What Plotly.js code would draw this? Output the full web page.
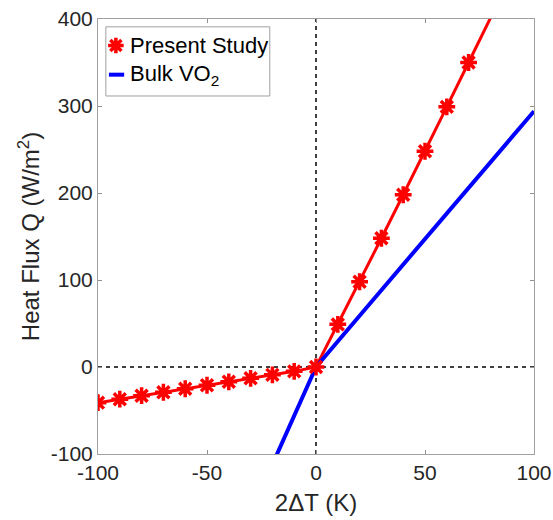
<!DOCTYPE html>
<html>
<head>
<meta charset="utf-8">
<script src="https://cdn.plot.ly/plotly-3.0.1.min.js"></script>
<style>html,body{margin:0;padding:0;background:#fff;}#chart{width:553px;height:520px;}</style>
</head>
<body>
<div id="chart"></div>
<script>
// Present Study (markers)
var studyX = [-100, -90, -80, -70, -60, -50, -40, -30, -20, -10, 0, 10, 20, 30, 40, 50, 60, 70];
var studyY = [-41, -37, -33, -29, -25, -21, -17, -13, -9, -5, 0, 49, 98, 148, 198, 248, 299, 350];
// Present Study line continues beyond the plot top
var studyLineX = [-100, -90, -80, -70, -60, -50, -40, -30, -20, -10, 0, 10, 20, 30, 40, 50, 60, 70, 80, 90, 100];
var studyLineY = [-41, -37, -33, -29, -25, -21, -17, -13, -9, -5, 0, 49, 98, 148, 198, 248, 299, 350, 401, 452, 503];
// Bulk VO2
var bulkX = [-20, -10, 0, 20, 40, 60, 80, 100];
var bulkY = [-112, -56, 0, 59, 118, 176, 235, 294];

var xTicks = [-100, -50, 0, 50, 100];
var yTicks = [-100, 0, 100, 200, 300, 400];
var legendNames = ['Present Study', 'Bulk VO<sub>2</sub>'];

var RED = '#ff0000', BLUE = '#0000ff';
var markerStyle = {symbol: 'asterisk-open', size: 14, color: RED, line: {color: RED, width: 3.5}};

var traces = [
  {x: studyLineX, y: studyLineY, mode: 'lines', line: {color: RED, width: 3}, showlegend: false, hoverinfo: 'skip'},
  {x: bulkX, y: bulkY, mode: 'lines', name: legendNames[1], line: {color: BLUE, width: 4}, showlegend: false},
  {x: studyX, y: studyY, mode: 'markers', name: legendNames[0], showlegend: false, marker: markerStyle},
  // legend glyph for Present Study, on an overlay axis in plot-fraction units
  {x: [0.041], y: [0.939], xaxis: 'x2', yaxis: 'y2', mode: 'markers', showlegend: false, hoverinfo: 'skip',
   marker: {symbol: 'asterisk-open', size: 13, color: RED, line: {color: RED, width: 3.5}}}
];

var layout = {
  width: 553, height: 520,
  margin: {l: 98, r: 19, t: 19, b: 66},
  paper_bgcolor: '#ffffff', plot_bgcolor: '#ffffff',
  font: {family: 'Liberation Sans, Arial, sans-serif', color: '#262626', size: 21},
  showlegend: false,
  xaxis: {range: [-100, 100], tickvals: xTicks, ticktext: xTicks.map(String), ticks: 'inside', ticklen: 4,
          tickcolor: '#909090', showline: true, linecolor: '#a0a0a0', linewidth: 1, mirror: 'ticks',
          showgrid: false, zeroline: false, tickfont: {size: 21},
          title: {text: '2ΔT (K)', font: {size: 24}, standoff: 10}},
  yaxis: {range: [-100, 400], tickvals: yTicks, ticktext: yTicks.map(String), ticks: 'inside', ticklen: 4,
          tickcolor: '#909090', showline: true, linecolor: '#a0a0a0', linewidth: 1, mirror: 'ticks',
          showgrid: false, zeroline: false, tickfont: {size: 21},
          title: {text: 'Heat Flux Q (W/m<sup>2</sup>)', font: {size: 24}, standoff: 4}},
  xaxis2: {overlaying: 'x', range: [0, 1], visible: false, fixedrange: true},
  yaxis2: {overlaying: 'y', range: [0, 1], visible: false, fixedrange: true},
  shapes: [
    {type: 'line', xref: 'x', yref: 'paper', x0: 0, x1: 0, y0: 0, y1: 1, line: {color: '#000000', width: 1.5, dash: '4px,4px'}, layer: 'below'},
    {type: 'line', xref: 'paper', yref: 'y', x0: 0, x1: 1, y0: 0, y1: 0, line: {color: '#000000', width: 1.5, dash: '4px,4px'}, layer: 'below'},
    // legend box
    {type: 'rect', xref: 'paper', yref: 'paper', x0: 0.018, x1: 0.394, y0: 0.823, y1: 0.982,
     line: {color: '#a0a0a0', width: 1}, fillcolor: '#ffffff', layer: 'below'},
    // legend line glyph for Bulk VO2
    {type: 'line', xref: 'paper', yref: 'paper', x0: 0.025, x1: 0.060, y0: 0.872, y1: 0.872,
     line: {color: BLUE, width: 4}, layer: 'above'}
  ],
  annotations: [
    {xref: 'paper', yref: 'paper', x: 0.068, y: 0.939, xanchor: 'left', yanchor: 'middle', showarrow: false,
     text: legendNames[0], font: {size: 22, color: '#000000'}},
    {xref: 'paper', yref: 'paper', x: 0.068, y: 0.872, xanchor: 'left', yanchor: 'middle', showarrow: false,
     text: legendNames[1], font: {size: 22, color: '#000000'}}
  ]
};

Plotly.newPlot('chart', traces, layout, {displayModeBar: false, staticPlot: true});
</script>
</body>
</html>
